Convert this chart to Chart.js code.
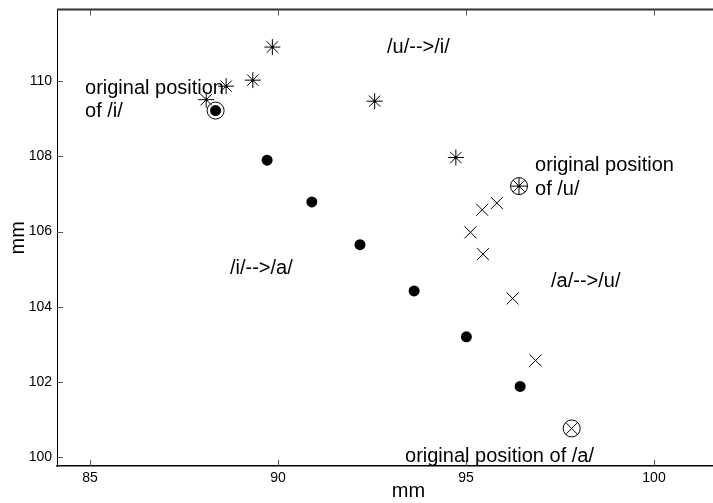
<!DOCTYPE html>
<html><head><meta charset="utf-8">
<script src="https://cdn.jsdelivr.net/npm/chart.js@4.4.1/dist/chart.umd.min.js"></script>
<style>
html,body{margin:0;padding:0;background:#fff;overflow:hidden;width:713px;height:503px}
#wrap{width:780px;height:503px}
</style></head>
<body><div id="wrap"><canvas id="c" width="780" height="503"></canvas></div>
<script>
// tick labels
const xTicks = [85, 90, 95, 100];
const yTicks = [100, 102, 104, 106, 108, 110];
// /i/ --> /a/ trajectory (filled dots)
const iToA_x = [88.34, 89.71, 90.90, 92.18, 93.62, 95.01, 96.44];
const iToA_y = [109.22, 107.90, 106.79, 105.65, 104.42, 103.20, 101.88];
// /u/ --> /i/ trajectory (stars)
const uToI_x = [96.41, 94.73, 92.57, 89.85, 89.33, 88.62, 88.09];
const uToI_y = [107.21, 107.97, 109.47, 110.91, 110.03, 109.87, 109.51];
// /a/ --> /u/ trajectory (crosses)
const aToU_x = [97.81, 96.85, 96.24, 95.45, 95.12, 95.43, 95.82];
const aToU_y = [100.76, 102.57, 104.22, 105.40, 105.98, 106.58, 106.76];
// original positions of /i/, /u/, /a/ (open circles)
const orig_x = [88.34, 96.41, 97.81];
const orig_y = [109.22, 107.21, 100.76];
// text annotations (data coordinates, left / baseline)
const noteText = ['original position', 'of /i/', '/u/-->/i/', 'original position', 'of /u/', '/i/-->/a/', '/a/-->/u/', 'original position of /a/'];
const noteX = [84.867, 84.867, 92.899, 96.835, 96.835, 88.723, 97.261, 93.378];
const noteY = [109.655, 109.045, 110.743, 107.613, 106.976, 104.881, 104.536, 99.867];

const FONT = "'Liberation Sans', Arial, Helvetica, sans-serif";
const pts = (xs, ys) => xs.map((v, i) => ({x: v, y: ys[i]}));

const decor = {
  id: 'decor',
  afterDatasetsDraw(chart) {
    const {ctx, chartArea: {left, right, top, bottom}, scales: {x, y}} = chart;
    ctx.save();
    // top frame line
    ctx.strokeStyle = '#333'; ctx.lineWidth = 2;
    ctx.beginPath(); ctx.moveTo(left, top); ctx.lineTo(right, top); ctx.stroke();
    // inward ticks
    ctx.strokeStyle = '#555'; ctx.lineWidth = 1;
    x.ticks.forEach(t => {
      const px = Math.round(x.getPixelForValue(t.value)) + 0.5;
      ctx.beginPath(); ctx.moveTo(px, bottom); ctx.lineTo(px, bottom - 6);
      ctx.moveTo(px, top); ctx.lineTo(px, top + 6); ctx.stroke();
    });
    y.ticks.forEach(t => {
      const py = Math.round(y.getPixelForValue(t.value)) + 0.5;
      ctx.beginPath(); ctx.moveTo(left, py); ctx.lineTo(left + 6, py); ctx.stroke();
    });
    // annotations
    ctx.fillStyle = '#000';
    ctx.font = '20px ' + FONT;
    ctx.textAlign = 'left'; ctx.textBaseline = 'alphabetic';
    noteText.forEach((s, i) => {
      ctx.fillText(s, x.getPixelForValue(noteX[i]), y.getPixelForValue(noteY[i]));
    });
    ctx.restore();
  }
};

new Chart(document.getElementById('c'), {
  type: 'scatter',
  data: {
    datasets: [
      {label: 'orig', data: pts(orig_x, orig_y), pointStyle: 'circle', pointRadius: 8.5,
       pointBackgroundColor: 'rgba(0,0,0,0)', pointBorderColor: '#000', pointBorderWidth: 1},
      {label: '/i/-->/a/', data: pts(iToA_x, iToA_y), pointStyle: 'circle', pointRadius: 5.5,
       pointBackgroundColor: '#000', pointBorderColor: '#000', pointBorderWidth: 0},
      {label: '/u/-->/i/', data: pts(uToI_x, uToI_y), pointStyle: 'star', pointRadius: 8,
       pointBackgroundColor: '#000', pointBorderColor: '#000', pointBorderWidth: 1},
      {label: 'star centres', data: pts(uToI_x, uToI_y), pointStyle: 'circle', pointRadius: 1.5,
       pointBackgroundColor: '#000', pointBorderWidth: 0},
      {label: '/a/-->/u/', data: pts(aToU_x, aToU_y), pointStyle: 'crossRot', pointRadius: 8.5,
       pointBackgroundColor: '#000', pointBorderColor: '#000', pointBorderWidth: 1}
    ]
  },
  options: {
    responsive: false, animation: false, devicePixelRatio: 1,
    layout: {padding: {left: 0, top: 8, right: 20, bottom: 0}},
    plugins: {legend: {display: false}, tooltip: {enabled: false}},
    scales: {
      x: {
        type: 'linear', min: 84.122, max: 102.819,
        afterFit: s => { s.height = 37; s.paddingLeft = 0; s.paddingRight = 0; },
        afterBuildTicks: s => { s.ticks = xTicks.map(v => ({value: v})); },
        grid: {display: false, drawTicks: false},
        border: {display: true, color: '#000', width: 1.5},
        ticks: {color: '#000', font: {family: FONT, size: 14}, padding: 4, maxRotation: 0},
        title: {display: true, text: 'mm', color: '#000', font: {family: FONT, size: 20}, padding: {top: 0, bottom: 0}}
      },
      y: {
        type: 'linear', min: 99.761, max: 111.910,
        afterFit: s => { s.width = 57; s.paddingTop = 0; s.paddingBottom = 0; },
        afterBuildTicks: s => { s.ticks = yTicks.map(v => ({value: v})); },
        grid: {display: false, drawTicks: false},
        border: {display: true, color: '#000', width: 1},
        ticks: {color: '#000', font: {family: FONT, size: 14}, padding: 5},
        title: {display: true, text: 'mm', color: '#000', font: {family: FONT, size: 20}, padding: {top: 6, bottom: 0}}
      }
    }
  },
  plugins: [decor]
});
</script>
</body></html>
